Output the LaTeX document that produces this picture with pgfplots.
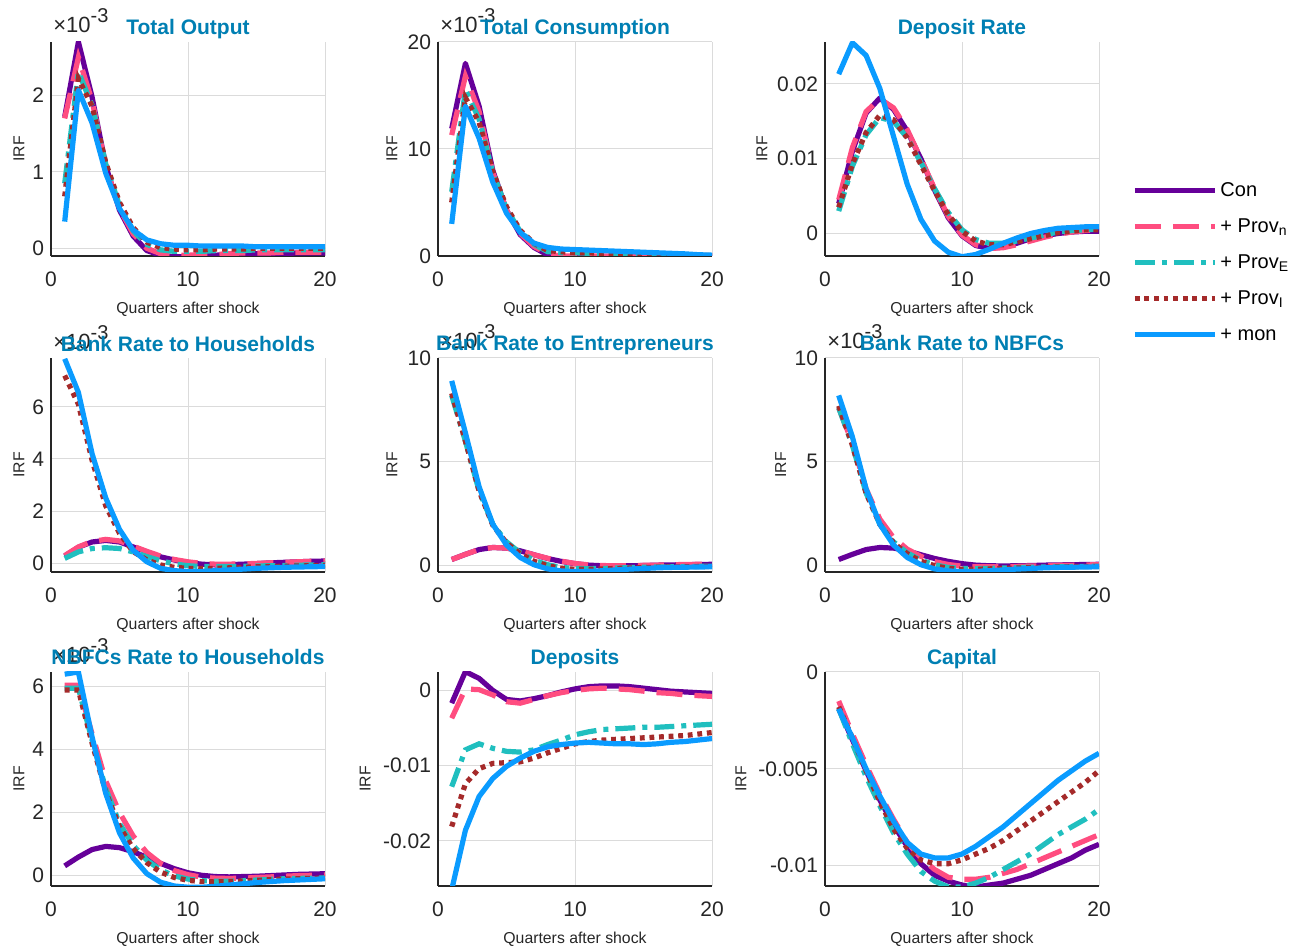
\documentclass[border=0pt]{standalone}
\usepackage{fontspec}
\setmainfont{Liberation Sans}
\usepackage{pgfplots}
\pgfplotsset{compat=1.18}
\usepackage{pgfplotstable}

\definecolor{cCon}{RGB}{102,0,153}
\definecolor{cProvn}{RGB}{255,77,128}
\definecolor{cProvE}{RGB}{32,191,191}
\definecolor{cProvI}{RGB}{165,42,42}
\definecolor{cMon}{RGB}{10,155,255}
\definecolor{titleblue}{RGB}{0,127,179}
\definecolor{tickgray}{RGB}{38,38,38}

\pgfplotstableread{
x con provn provE provI mon
1 1.72 1.70 0.85 0.68 0.35
2 2.70 2.50 2.31 2.22 2.07
3 1.98 1.93 1.87 1.86 1.64
4 1.08 1.07 1.10 1.12 0.98
5 0.50 0.52 0.56 0.60 0.52
6 0.16 0.19 0.23 0.27 0.24
7 -0.03 0.00 0.05 0.08 0.11
8 -0.09 -0.07 -0.02 0.01 0.06
9 -0.11 -0.09 -0.04 -0.01 0.04
10 -0.11 -0.09 -0.04 -0.02 0.04
11 -0.10 -0.08 -0.04 -0.02 0.03
12 -0.09 -0.08 -0.03 -0.01 0.03
13 -0.08 -0.07 -0.03 -0.01 0.03
14 -0.08 -0.06 -0.03 -0.01 0.03
15 -0.07 -0.06 -0.02 0.00 0.02
16 -0.07 -0.06 -0.02 0.00 0.02
17 -0.07 -0.05 -0.02 0.00 0.02
18 -0.06 -0.05 -0.02 0.00 0.02
19 -0.06 -0.05 -0.02 0.00 0.02
20 -0.06 -0.05 -0.02 0.00 0.02
}\tOut

\pgfplotstableread{
x con provn provE provI mon
1 11.9 11.3 6.0 5.0 3.0
2 18.0 16.8 15.5 14.8 14.0
3 14.0 13.5 12.8 12.5 11.0
4 8.0 7.8 7.8 7.9 6.9
5 4.3 4.3 4.4 4.6 4.0
6 2.0 2.1 2.3 2.4 2.2
7 0.8 0.9 1.1 1.2 1.2
8 0.1 0.2 0.4 0.5 0.8
9 -0.1 0.0 0.3 0.4 0.65
10 -0.1 0.0 0.3 0.3 0.6
11 -0.1 0.0 0.25 0.3 0.55
12 -0.1 0.0 0.25 0.25 0.5
13 -0.1 0.0 0.2 0.25 0.45
14 -0.1 0.0 0.2 0.2 0.4
15 -0.05 0.0 0.15 0.2 0.35
16 -0.05 0.0 0.15 0.15 0.3
17 0.0 0.0 0.1 0.1 0.25
18 0.0 0.0 0.1 0.1 0.2
19 0.0 0.0 0.05 0.05 0.12
20 0.0 0.0 0.05 0.05 0.08
}\tCons

\pgfplotstableread{
x con provn provE provI mon
1 0.0040 0.0045 0.0030 0.0035 0.0213
2 0.0110 0.0115 0.0090 0.0093 0.0255
3 0.0161 0.0163 0.0132 0.0135 0.0238
4 0.0181 0.0180 0.0155 0.0158 0.0194
5 0.0166 0.0168 0.0150 0.0152 0.0130
6 0.0137 0.0139 0.0128 0.0128 0.0066
7 0.0100 0.0100 0.0095 0.0092 0.0019
8 0.0058 0.0060 0.0060 0.0057 -0.0010
9 0.0021 0.0023 0.0028 0.0025 -0.0025
10 -0.0003 -0.0002 0.0005 0.0003 -0.0031
11 -0.0016 -0.0015 -0.0008 -0.0010 -0.0028
12 -0.0020 -0.0020 -0.0013 -0.0015 -0.0021
13 -0.0018 -0.0019 -0.0013 -0.0015 -0.0013
14 -0.0013 -0.0015 -0.0010 -0.0011 -0.0006
15 -0.0007 -0.0010 -0.0006 -0.0007 0.0000
16 -0.0003 -0.0005 -0.0002 -0.0003 0.0004
17 0.0000 -0.0001 0.0002 0.0001 0.0007
18 0.0002 0.0002 0.0004 0.0003 0.0008
19 0.0003 0.0004 0.0005 0.0005 0.0009
20 0.0003 0.0005 0.0006 0.0005 0.0009
}\tDepR

\pgfplotstableread{
x con provn provE provI mon
1 0.28 0.30 0.19 7.20 7.84
2 0.62 0.63 0.44 6.10 6.55
3 0.82 0.84 0.57 3.95 4.20
4 0.88 0.92 0.60 2.20 2.50
5 0.82 0.86 0.57 1.15 1.30
6 0.63 0.66 0.44 0.45 0.50
7 0.44 0.46 0.26 0.13 0.06
8 0.25 0.28 0.10 -0.06 -0.19
9 0.13 0.15 -0.02 -0.15 -0.28
10 0.03 0.06 -0.09 -0.19 -0.31
11 -0.03 0.00 -0.12 -0.20 -0.31
12 -0.06 -0.03 -0.12 -0.19 -0.28
13 -0.05 -0.03 -0.12 -0.17 -0.25
14 -0.03 -0.02 -0.11 -0.15 -0.22
15 -0.01 0.00 -0.10 -0.13 -0.19
16 0.02 0.02 -0.09 -0.12 -0.17
17 0.04 0.04 -0.08 -0.11 -0.15
18 0.06 0.06 -0.07 -0.10 -0.14
19 0.08 0.08 -0.06 -0.09 -0.13
20 0.09 0.09 -0.05 -0.08 -0.12
}\tBHH

\pgfplotstableread{
x con provn provE provI mon
1 0.30 0.30 8.20 8.30 8.90
2 0.55 0.55 6.00 6.00 6.40
3 0.78 0.78 3.60 3.60 3.80
4 0.88 0.88 2.00 1.95 2.00
5 0.85 0.85 1.15 1.10 1.00
6 0.72 0.72 0.62 0.58 0.40
7 0.53 0.53 0.27 0.22 0.05
8 0.35 0.36 0.05 0.00 -0.15
9 0.21 0.22 -0.08 -0.12 -0.25
10 0.10 0.11 -0.13 -0.17 -0.28
11 0.03 0.04 -0.14 -0.17 -0.27
12 0.00 0.01 -0.13 -0.15 -0.24
13 -0.01 0.00 -0.11 -0.13 -0.20
14 0.00 0.01 -0.09 -0.11 -0.16
15 0.01 0.02 -0.07 -0.09 -0.13
16 0.03 0.03 -0.06 -0.07 -0.10
17 0.04 0.05 -0.05 -0.06 -0.08
18 0.05 0.06 -0.04 -0.05 -0.07
19 0.06 0.07 -0.03 -0.04 -0.06
20 0.07 0.08 -0.02 -0.03 -0.05
}\tBEn

\pgfplotstableread{
x con provn provE provI mon
1 0.30 7.60 7.60 7.70 8.20
2 0.55 5.90 5.80 5.80 6.20
3 0.78 3.70 3.50 3.50 3.70
4 0.88 2.25 2.00 2.00 2.00
5 0.85 1.35 1.15 1.10 1.00
6 0.72 0.80 0.62 0.58 0.40
7 0.53 0.45 0.27 0.22 0.05
8 0.35 0.20 0.05 0.00 -0.15
9 0.21 0.06 -0.08 -0.12 -0.25
10 0.10 -0.02 -0.13 -0.17 -0.28
11 0.03 -0.05 -0.14 -0.17 -0.27
12 0.00 -0.05 -0.13 -0.15 -0.24
13 -0.01 -0.04 -0.11 -0.13 -0.20
14 0.00 -0.03 -0.09 -0.11 -0.16
15 0.01 -0.01 -0.07 -0.09 -0.13
16 0.03 0.00 -0.06 -0.07 -0.10
17 0.04 0.02 -0.05 -0.06 -0.08
18 0.05 0.03 -0.04 -0.05 -0.07
19 0.06 0.04 -0.03 -0.04 -0.06
20 0.07 0.05 -0.02 -0.03 -0.05
}\tBNB

\pgfplotstableread{
x con provn provE provI mon
1 0.30 6.05 5.95 5.90 6.40
2 0.58 6.05 5.95 5.90 6.47
3 0.82 4.50 4.30 4.20 4.40
4 0.92 3.00 2.75 2.65 2.60
5 0.88 2.00 1.65 1.55 1.35
6 0.75 1.25 0.95 0.85 0.55
7 0.57 0.72 0.48 0.40 0.05
8 0.38 0.38 0.17 0.10 -0.22
9 0.21 0.15 -0.02 -0.07 -0.34
10 0.08 0.02 -0.12 -0.16 -0.38
11 0.00 -0.06 -0.17 -0.20 -0.38
12 -0.04 -0.09 -0.19 -0.21 -0.35
13 -0.05 -0.10 -0.19 -0.20 -0.31
14 -0.04 -0.09 -0.17 -0.18 -0.27
15 -0.03 -0.07 -0.15 -0.16 -0.23
16 -0.01 -0.05 -0.13 -0.14 -0.20
17 0.01 -0.03 -0.11 -0.12 -0.17
18 0.03 -0.01 -0.10 -0.11 -0.15
19 0.04 0.00 -0.09 -0.10 -0.13
20 0.05 0.01 -0.08 -0.09 -0.11
}\tNHH

\pgfplotstableread{
x con provn provE provI mon
1 -0.0017 -0.0037 -0.0128 -0.0181 -0.0265
2 0.0025 0.0002 -0.0079 -0.0124 -0.0186
3 0.0016 0.0001 -0.0071 -0.0104 -0.0141
4 0.0000 -0.0006 -0.0077 -0.0097 -0.0117
5 -0.0012 -0.0015 -0.0081 -0.0096 -0.0101
6 -0.0014 -0.0017 -0.0082 -0.0095 -0.0090
7 -0.0011 -0.0012 -0.0079 -0.0090 -0.0081
8 -0.0007 -0.0007 -0.0072 -0.0083 -0.0075
9 -0.0002 -0.0003 -0.0066 -0.0077 -0.0072
10 0.0002 0.0000 -0.0059 -0.0071 -0.0070
11 0.0005 0.0002 -0.0055 -0.0068 -0.0069
12 0.0006 0.0003 -0.0052 -0.0066 -0.0070
13 0.0006 0.0002 -0.0051 -0.0065 -0.0071
14 0.0005 0.0001 -0.0050 -0.0064 -0.0071
15 0.0003 -0.0001 -0.0049 -0.0063 -0.0072
16 0.0001 -0.0003 -0.0049 -0.0062 -0.0071
17 -0.0001 -0.0004 -0.0048 -0.0061 -0.0069
18 -0.0002 -0.0006 -0.0047 -0.0060 -0.0068
19 -0.0003 -0.0007 -0.0046 -0.0058 -0.0066
20 -0.0004 -0.0008 -0.0045 -0.0056 -0.0064
}\tDep

\pgfplotstableread{
x con provn provE provI mon
1 -0.0019 -0.0015 -0.0019 -0.0018 -0.0019
2 -0.0035 -0.0032 -0.0037 -0.0034 -0.0034
3 -0.0051 -0.0048 -0.0054 -0.0051 -0.0050
4 -0.0066 -0.0063 -0.0069 -0.0067 -0.0064
5 -0.0079 -0.0076 -0.0083 -0.0081 -0.0077
6 -0.0090 -0.0088 -0.0094 -0.0091 -0.0088
7 -0.0099 -0.0096 -0.0103 -0.0097 -0.0094
8 -0.0105 -0.0102 -0.0108 -0.0099 -0.0096
9 -0.0108 -0.0106 -0.0111 -0.0099 -0.0096
10 -0.0110 -0.0107 -0.0111 -0.0097 -0.0094
11 -0.0111 -0.0107 -0.0109 -0.0094 -0.0090
12 -0.0110 -0.0106 -0.0106 -0.0091 -0.0085
13 -0.0109 -0.0104 -0.0102 -0.0087 -0.0080
14 -0.0107 -0.0102 -0.0098 -0.0082 -0.0074
15 -0.0105 -0.0099 -0.0094 -0.0077 -0.0068
16 -0.0102 -0.0096 -0.0089 -0.0072 -0.0062
17 -0.0099 -0.0093 -0.0084 -0.0067 -0.0056
18 -0.0096 -0.0090 -0.0080 -0.0062 -0.0051
19 -0.0092 -0.0087 -0.0076 -0.0057 -0.0046
20 -0.0089 -0.0084 -0.0071 -0.0051 -0.0042
}\tCap

\pgfplotsset{
  irf/.style={
    scale only axis, width=137pt, height=107pt,
    xmin=0, xmax=20, xtick={0,10,20},
    axis x line*=bottom, axis y line*=left,
    axis line style={-, line width=0.6pt, color=tickgray},
    grid=major, grid style={line width=0.5pt, color=black!14},
    major tick length=0pt,
    tick label style={font=\fontsize{10.5}{12}\selectfont, text=tickgray},
    /pgf/number format/assume math mode=true,
    xticklabel style={yshift=-4.5pt},
    scaled y ticks=false,
    xlabel={Quarters after shock},
    ylabel={IRF},
    xlabel style={at={(axis description cs:0.5,0)}, anchor=center, yshift=-26.5pt,
      font=\fontsize{7.9}{9}\selectfont, text=tickgray},
    ylabel style={anchor=center, font=\fontsize{7.9}{9}\selectfont, text=tickgray},
    every axis title shift=0pt,
    title style={anchor=base, yshift=3.5pt, font=\bfseries\fontsize{10.5}{12}\selectfont, text=titleblue},
    clip mode=individual,
  },
  ylab/.style={ylabel style={at={(axis description cs:-#1,0.5)}}},
  con/.style={color=cCon, solid, line width=2.6pt, line join=round},
  provn/.style={color=cProvn, dash pattern=on 13pt off 6pt, line width=2.6pt},
  provE/.style={color=cProvE, dash pattern=on 10pt off 3.5pt on 2.5pt off 3.5pt, line width=2.6pt},
  provI/.style={color=cProvI, dash pattern=on 2.4pt off 2.4pt, line width=2.6pt},
  mon/.style={color=cMon, solid, line width=2.6pt, line join=round},
}

\newcommand{\irf}[1]{%
  \addplot[con] table[x=x,y=con]{#1};
  \addplot[provn] table[x=x,y=provn]{#1};
  \addplot[provE] table[x=x,y=provE]{#1};
  \addplot[provI] table[x=x,y=provI]{#1};
  \addplot[mon] table[x=x,y=mon]{#1};
}
\newcommand{\expo}{\node[anchor=base west, inner sep=0pt, xshift=1pt, yshift=4.5pt,
  font=\fontsize{11}{12}\selectfont, text=tickgray] at (rel axis cs:0,1)
  {×10\raisebox{5pt}{\fontsize{10}{11}\selectfont -3}};}

\begin{document}
\begin{tikzpicture}
\useasboundingbox (0,0) rectangle (651pt,475.5pt);

% Row 1
\begin{axis}[irf, at={(25.5pt,347.5pt)}, anchor=south west, title={Total Output},
  ymin=-0.1, ymax=2.7, ytick={0,1,2}, ylab=0.117]
\irf{\tOut}
\expo
\end{axis}

\begin{axis}[irf, at={(219pt,347.5pt)}, anchor=south west, title={Total Consumption},
  ymin=0, ymax=20, ytick={0,10,20}, ylab=0.168]
\irf{\tCons}
\expo
\end{axis}

\begin{axis}[irf, at={(412.5pt,347.5pt)}, anchor=south west, title={Deposit Rate},
  ymin=-0.003, ymax=0.0256, ytick={0,0.01,0.02}, yticklabels={0,0.01,0.02}, ylab=0.23,
  legend style={at={(axis description cs:1.12,0.365)}, anchor=north west, draw=none, fill=none,
    inner sep=0pt, row sep=6pt, font=\fontsize{10}{12}\selectfont, text=black,
    nodes={inner sep=1.5pt, text height=7.5pt, text depth=1.5pt}},
  legend cell align=left,
  legend image code/.code={\draw[#1] (0pt,0pt) -- (40pt,0pt);}]
\irf{\tDepR}
\legend{Con, + Prov\textsubscript{n}, + Prov\textsubscript{E}, + Prov\textsubscript{I}, + mon}
\end{axis}

% Row 2
\begin{axis}[irf, at={(25.5pt,189.5pt)}, anchor=south west, title={Bank Rate to Households},
  ymin=-0.33, ymax=7.87, ytick={0,2,4,6}, ylab=0.117]
\irf{\tBHH}
\expo
\end{axis}

\begin{axis}[irf, at={(219pt,189.5pt)}, anchor=south west, title={Bank Rate to Entrepreneurs},
  ymin=-0.3, ymax=10, ytick={0,5,10}, ylab=0.168]
\irf{\tBEn}
\expo
\end{axis}

\begin{axis}[irf, at={(412.5pt,189.5pt)}, anchor=south west, title={Bank Rate to NBFCs},
  ymin=-0.3, ymax=10, ytick={0,5,10}, ylab=0.162]
\irf{\tBNB}
\expo
\end{axis}

% Row 3
\begin{axis}[irf, at={(25.5pt,32.5pt)}, anchor=south west, title={NBFCs Rate to Households},
  ymin=-0.34, ymax=6.47, ytick={0,2,4,6}, ylab=0.117]
\irf{\tNHH}
\expo
\end{axis}

\begin{axis}[irf, at={(219pt,32.5pt)}, anchor=south west, title={Deposits},
  ymin=-0.026, ymax=0.00245, ytick={-0.02,-0.01,0}, yticklabels={-0.02,-0.01,0}, ylab=0.266]
\irf{\tDep}
\end{axis}

\begin{axis}[irf, at={(412.5pt,32.5pt)}, anchor=south west, title={Capital},
  ymin=-0.01105, ymax=0, ytick={-0.01,-0.005,0}, yticklabels={-0.01,-0.005,0}, ylab=0.307]
\irf{\tCap}
\end{axis}

\end{tikzpicture}
\end{document}
